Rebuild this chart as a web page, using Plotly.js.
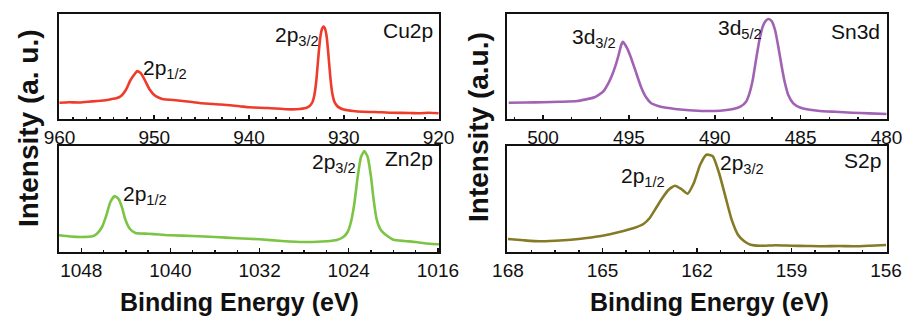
<!DOCTYPE html>
<html>
<head>
<meta charset="utf-8">
<script src="https://cdn.plot.ly/plotly-3.0.1.min.js"></script>
<style>html,body{margin:0;padding:0;background:#fff;}#chart{width:902px;height:320px;}</style>
</head>
<body>
<div id="chart"></div>
<script>
// ---- data (binding energy in eV, intensity in arbitrary units) ----
const cuX = [960, 959, 958, 957, 956, 955, 954.5, 954, 953.5, 953, 952.5, 952, 951.8, 951.4, 951, 950.5, 950, 949.5, 949, 948, 947, 946, 945, 943, 941, 940, 938, 936, 935, 934, 933.6, 933.3, 933.1, 932.9, 932.7, 932.5, 932.3, 932.15, 932, 931.8, 931.6, 931.4, 931.2, 931, 930.7, 930.4, 930, 929, 928, 926, 925, 923, 922, 921, 920];
const cuY = [16.3, 16.8, 16.5, 17.3, 18.0, 19.0, 20.0, 20.7, 23.0, 29.0, 39.0, 45.7, 48.0, 45.7, 39.0, 29.7, 24.0, 21.3, 19.7, 19.0, 18.0, 17.0, 15.7, 14.5, 12.8, 11.7, 11.0, 9.7, 9.8, 11.0, 13.0, 17.0, 24.0, 38.0, 60.0, 80.0, 90.0, 92.5, 91.0, 82.0, 62.0, 40.0, 25.0, 17.5, 13.0, 11.0, 9.5, 8.0, 7.3, 6.8, 6.3, 6.0, 5.7, 6.2, 5.7];

const znX = [1050, 1049, 1048, 1047, 1046.6, 1046.14, 1045.75, 1045.39, 1045, 1044.64, 1044.34, 1044.04, 1043.65, 1043.14, 1042, 1041, 1040, 1038, 1036, 1034, 1032, 1030, 1028, 1026, 1025, 1024.49, 1024.1, 1023.8, 1023.5, 1023.2, 1022.9, 1022.6, 1022.3, 1022, 1021.76, 1021.49, 1021.1, 1020.5, 1020, 1019, 1018, 1017, 1016, 1015.9];
const znY = [16.7, 15.5, 15.0, 15.7, 18.3, 25.0, 36.7, 50.0, 56.0, 52.7, 44.3, 32.3, 23.3, 19.0, 18.3, 17.5, 16.7, 16.0, 15.0, 13.8, 12.7, 11.0, 10.0, 10.7, 12.3, 15.0, 20.0, 30.0, 48.3, 75.0, 95.0, 101.0, 95.0, 75.0, 51.7, 32.3, 21.7, 15.7, 12.3, 11.0, 10.0, 8.5, 7.7, 7.7];

const snX = [502, 501, 500, 499, 498, 497, 496.5, 496.2, 496, 495.8, 495.6, 495.45, 495.35, 495.1, 494.9, 494.6, 494.3, 494, 493.7, 493.3, 493, 492, 491, 490, 489, 488.51, 488.18, 487.98, 487.79, 487.6, 487.4, 487.21, 487.02, 486.86, 486.69, 486.49, 486.3, 486.1, 485.91, 485.72, 485.43, 485, 484, 483, 482, 481, 480];
const snY = [16.3, 16.5, 16.7, 17.2, 18.0, 21.7, 27.3, 35.7, 43.0, 52.3, 64.0, 74.0, 77.3, 70.7, 62.3, 47.3, 32.3, 21.7, 15.7, 13.0, 11.7, 9.5, 8.3, 8.0, 9.7, 12.3, 17.3, 25.7, 39.0, 59.0, 79.0, 92.3, 98.3, 100.0, 98.0, 89.0, 72.3, 52.3, 35.7, 24.0, 15.7, 11.3, 8.3, 7.2, 6.3, 5.6, 5.0];

const sX = [168, 167.5, 167, 166.5, 166, 165.5, 165, 164.5, 164, 163.7, 163.5, 163.3, 163.1, 162.9, 162.7, 162.5, 162.3, 162.1, 161.9, 161.7, 161.5, 161.3, 161.1, 160.9, 160.7, 160.5, 160.3, 160, 159.5, 159, 158.5, 158, 157.5, 157, 156.5, 156];
const sY = [13.0, 11.7, 10.7, 11.3, 12.3, 14.0, 16.3, 19.7, 24.0, 28.0, 34.0, 44.0, 54.0, 62.3, 66.3, 63.0, 58.3, 69.0, 87.3, 97.3, 95.7, 79.0, 55.7, 32.3, 17.3, 10.7, 7.3, 6.3, 6.8, 6.3, 6.0, 5.7, 6.0, 5.7, 6.3, 7.0];

const cuTicks = [960, 950, 940, 930, 920];
const znTicks = [1048, 1040, 1032, 1024, 1016];
const snTicks = [500, 495, 490, 485, 480];
const sTicks  = [168, 165, 162, 159, 156];

const peakLabels = {
  cu: ["2p<sub>1/2</sub>", "2p<sub>3/2</sub>", "Cu2p"],
  zn: ["2p<sub>1/2</sub>", "2p<sub>3/2</sub>", "Zn2p"],
  sn: ["3d<sub>3/2</sub>", "3d<sub>5/2</sub>", "Sn3d"],
  s:  ["2p<sub>1/2</sub>", "2p<sub>3/2</sub>", "S2p"]
};
const yTitleLeft = "Intensity (a. u.)";
const yTitleRight = "Intensity (a.u.)";
const xTitle = "Binding Energy (eV)";

// ---- layout helpers ----
const W = 902, H = 320;
const px = x => x / W;
const py = y => 1 - y / H;
const FONT = "Arial, 'Liberation Sans', sans-serif";

function trace(x, y, color, xa, ya) {
  return {x: x, y: y, xaxis: xa, yaxis: ya, type: 'scatter', mode: 'lines',
    line: {color: color, width: 2.6, shape: 'spline', smoothing: 0.5},
    hoverinfo: 'skip', showlegend: false};
}
function xAxis(domain, range, ticks, minorDtick, anchor) {
  return {domain: domain, range: range, anchor: anchor, tickmode: 'array', tickvals: ticks,
    ticktext: ticks.map(String), ticks: 'inside', ticklen: 4, tickwidth: 1.5, tickcolor: '#111',
    ticklabeloverflow: 'allow',
    showline: true, mirror: true, linecolor: '#111', linewidth: 2, showgrid: false, zeroline: false,
    tickfont: {family: FONT, size: 19, color: '#111'},
    minor: {dtick: minorDtick, tick0: ticks[ticks.length - 1], ticks: 'inside', ticklen: 2.5, tickwidth: 1.5, tickcolor: '#111', showgrid: false}};
}
function yAxis(domain, range, anchor) {
  return {domain: domain, range: range, anchor: anchor, showticklabels: false, ticks: '',
    showline: true, mirror: true, linecolor: '#111', linewidth: 2, showgrid: false, zeroline: false};
}

const leftDom = [px(59), px(439)];
const rightDom = [px(507), px(887)];
const topDom = [py(119), py(14)];
const botDom = [py(252), py(145.5)];

const data = [
  trace(cuX, cuY, '#ef3b2a', 'x', 'y'),
  trace(znX, znY, '#7cc444', 'x2', 'y2'),
  trace(snX, snY, '#a262b4', 'x3', 'y3'),
  trace(sX, sY, '#857a25', 'x4', 'y4')
];

function ann(text, x, y, size, extra) {
  return Object.assign({text: text, x: px(x), y: py(y), xref: 'paper', yref: 'paper', showarrow: false,
    xanchor: 'center', yanchor: 'middle', font: {family: FONT, size: size, color: '#111'}}, extra || {});
}

const annotations = [
  ann(peakLabels.cu[0], 165, 69, 21),
  ann(peakLabels.cu[1], 297, 36, 21),
  ann(peakLabels.cu[2], 408, 30, 21),
  ann(peakLabels.zn[0], 145, 195, 21),
  ann(peakLabels.zn[1], 334, 163, 21),
  ann(peakLabels.zn[2], 409, 158, 21),
  ann(peakLabels.sn[0], 594, 38, 21),
  ann(peakLabels.sn[1], 740, 29, 21),
  ann(peakLabels.sn[2], 855, 31, 21),
  ann(peakLabels.s[0], 643, 177, 21),
  ann(peakLabels.s[1], 742, 164, 21),
  ann(peakLabels.s[2], 862, 160, 21),
  ann('<b>' + yTitleLeft + '</b>', 28, 128, 28, {textangle: -90}),
  ann('<b>' + yTitleRight + '</b>', 478, 127, 28, {textangle: -90}),
  ann('<b>' + xTitle + '</b>', 240, 302, 25),
  ann('<b>' + xTitle + '</b>', 709, 302, 25)
];

const layout = {
  width: W, height: H, margin: {l: 0, r: 0, t: 0, b: 0},
  paper_bgcolor: '#fff', plot_bgcolor: '#fff', showlegend: false,
  font: {family: FONT, color: '#111'},
  xaxis: xAxis(leftDom, [960.05, 919.95], cuTicks, 10 / 7, 'y'),
  yaxis: yAxis(topDom, [0, 105], 'x'),
  xaxis2: xAxis(leftDom, [1050, 1015.9], znTicks, 2, 'y2'),
  yaxis2: yAxis(botDom, [0, 106.5], 'x2'),
  xaxis3: xAxis(rightDom, [502.1, 479.97], snTicks, 5 / 3, 'y3'),
  yaxis3: yAxis(topDom, [0, 105], 'x3'),
  xaxis4: xAxis(rightDom, [168.03, 155.97], sTicks, 0.75, 'y4'),
  yaxis4: yAxis(botDom, [0, 106.5], 'x4'),
  annotations: annotations
};

Plotly.newPlot('chart', data, layout, {staticPlot: true, displayModeBar: false});
</script>
</body>
</html>
